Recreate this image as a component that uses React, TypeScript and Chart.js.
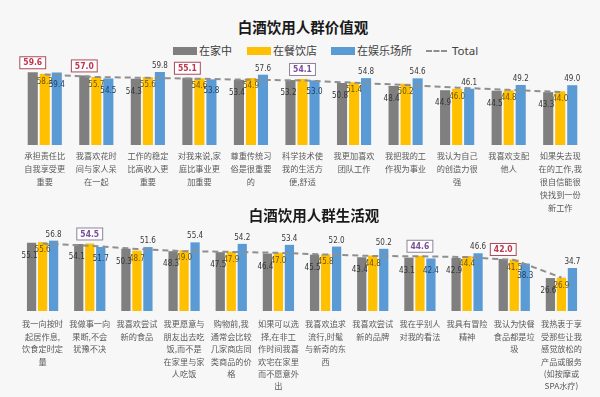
import React, { useEffect, useRef } from 'react';
import { Chart, registerables } from 'chart.js';

Chart.register(...registerables);

// ---------- data: 价值观 ----------
const topCategories: string[][] = [
  ['承担责任比', '自我享受更', '重要'],
  ['我喜欢花时', '间与家人呆', '在一起'],
  ['工作的稳定', '比高收入更', '重要'],
  ['对我来说,家', '庭比事业更', '加重要'],
  ['尊重传统习', '俗是很重要', '的'],
  ['科学技术使', '我的生活方', '便,舒适'],
  ['我更加喜欢', '团队工作'],
  ['我把我的工', '作视为事业'],
  ['我认为自己', '的创造力很', '强'],
  ['我喜欢支配', '他人'],
  ['如果失去现', '在的工作,我', '很自信能很', '快找到一份', '新工作'],
];
const topHome = [59.6, 57.0, 54.3, 55.1, 53.4, 53.2, 50.8, 48.4, 44.9, 44.5, 43.3];
const topRestaurant = [58.3, 55.7, 55.6, 54.6, 54.9, 54.1, 51.4, 50.2, 46.0, 44.8, 44.0];
const topEntertainment = [59.4, 54.5, 59.8, 53.8, 57.6, 53.0, 54.8, 54.6, 46.1, 49.2, 49.0];
const topTotal = [57.8, 55.7, 55.0, 54.3, 53.4, 52.9, 51.0, 49.2, 47.0, 45.2, 43.4];
// [category index, series index, tone]
const topHighlights: [number, number, string][] = [
  [0, 0, 'red'], [1, 0, 'red'], [3, 0, 'red'], [5, 1, 'purple'],
];

// ---------- data: 生活观 ----------
const bottomCategories: string[][] = [
  ['我一向按时', '起居作息,', '饮食定时定', '量'],
  ['我做事一向', '果断,不会', '犹豫不决'],
  ['我喜欢尝试', '新的食品'],
  ['我更愿意与', '朋友出去吃', '饭,而不是', '在家里与家', '人吃饭'],
  ['购物前,我', '通常会比较', '几家商店同', '类商品的价', '格'],
  ['如果可以选', '择,在非工', '作时间我喜', '欢宅在家里', '而不愿意外', '出'],
  ['我喜欢追求', '流行,时髦', '与新奇的东', '西'],
  ['我喜欢尝试', '新的品牌'],
  ['我在乎别人', '对我的看法'],
  ['我具有冒险', '精神'],
  ['我认为快餐', '食品都是垃', '圾'],
  ['我热衷于享', '受那些让我', '感觉放松的', '产品或服务', '(如按摩或', 'SPA水疗)'],
];
const bottomHome = [55.1, 54.1, 50.3, 48.3, 47.5, 46.4, 45.5, 43.4, 43.1, 42.9, 42.0, 26.6];
const bottomRestaurant = [55.6, 54.5, 48.7, 49.0, 47.9, 47.0, 45.8, 44.8, 44.6, 44.4, 41.5, 26.9];
const bottomEntertainment = [56.8, 51.7, 51.6, 55.4, 54.2, 53.4, 52.0, 50.2, 42.4, 46.6, 38.3, 34.7];
const bottomTotal = [54.4, 52.7, 50.1, 48.3, 47.7, 47.0, 45.6, 44.4, 44.2, 43.5, 41.2, 27.0];
const bottomHighlights: [number, number, string][] = [
  [1, 1, 'purple'], [8, 1, 'purple'], [10, 0, 'red'],
];

const seriesNames = ['在家中', '在餐饮店', '在娱乐场所', 'Total'];
const GRAY = '#7f7f7f';
const YELLOW = '#ffc000';
const BLUE = '#5b9bd5';
const TOTAL = '#8f8f8f';
const CJK = "'Noto Sans CJK SC', 'Noto Sans', sans-serif";
const NUMFONT = "'Liberation Sans Narrow', 'DejaVu Sans Condensed', 'Liberation Sans', Arial, sans-serif";

function labelPlugin(highlights: [number, number, string][]) {
  return {
    id: 'barValueLabels',
    afterDatasetsDraw(chart: any) {
      const ctx = chart.ctx;
      const n = chart.data.labels.length;
      const metas = [0, 1, 2].map((i) => chart.getDatasetMeta(i));
      for (let j = 0; j < n; j++) {
        const vals = [0, 1, 2].map((i) => chart.data.datasets[i].data[j] as number);
        for (let i = 0; i < 3; i++) {
          const el = metas[i].data[j];
          const v = vals[i];
          const txt = v.toFixed(1);
          const hl = highlights.find((h) => h[0] === j && h[1] === i);
          ctx.save();
          ctx.textAlign = 'center';
          ctx.textBaseline = 'middle';
          if (hl) {
            const red = hl[2] === 'red';
            ctx.font = `bold 8.5px ${NUMFONT}`;
            const w = ctx.measureText(txt).width + 8;
            const h = 13;
            const bx = el.x - w / 2;
            const by = el.y - 3 - h;
            ctx.fillStyle = 'rgba(255,255,255,0.95)';
            ctx.fillRect(bx, by, w, h);
            ctx.strokeStyle = red ? '#a84a5c' : '#8c8299';
            ctx.lineWidth = 1;
            ctx.strokeRect(bx + 0.5, by + 0.5, w - 1, h - 1);
            ctx.fillStyle = red ? '#c0364e' : '#7b4e9c';
            ctx.fillText(txt, el.x, by + h / 2 + 0.5);
          } else {
            ctx.font = `8px ${NUMFONT}`;
            let y = el.y + 12;
            let x = el.x;
            let color = '#3a3a3a';
            if (i === 0) {
              y = el.y + 13;
              x = el.x - 2;
              color = '#333333';
            } else if (i === 1) {
              y = el.y + 8;
              color = '#6e5200';
            } else {
              if (v >= Math.max(vals[0], vals[1])) {
                y = el.y - 6;
                color = '#3a3a3a';
              } else {
                y = el.y + 12;
                color = '#1d3f66';
              }
            }
            ctx.fillStyle = color;
            ctx.fillText(txt, x, y);
          }
          ctx.restore();
        }
      }
    },
  };
}

function buildConfig(
  labels: string[][],
  home: number[],
  rest: number[],
  ent: number[],
  total: number[],
  highlights: [number, number, string][],
  opts: { padTop: number; padBottom: number; padLeft: number; padRight: number; yMax: number; fontSize: number; lineHeight: number; tickPad: number },
): any {
  const barCommon = { categoryPercentage: 0.7, barPercentage: 0.84, order: 1, borderWidth: 0 };
  return {
    type: 'bar',
    data: {
      labels,
      datasets: [
        { label: seriesNames[0], data: home, backgroundColor: GRAY, ...barCommon },
        { label: seriesNames[1], data: rest, backgroundColor: YELLOW, ...barCommon },
        { label: seriesNames[2], data: ent, backgroundColor: BLUE, ...barCommon },
        {
          type: 'line',
          label: seriesNames[3],
          data: total,
          borderColor: TOTAL,
          borderWidth: 2,
          borderDash: [6, 4],
          pointRadius: 0,
          fill: false,
          tension: 0,
          order: 0,
        },
      ],
    },
    options: {
      responsive: false,
      maintainAspectRatio: false,
      animation: false,
      devicePixelRatio: 1,
      layout: { padding: { top: opts.padTop, bottom: opts.padBottom, left: opts.padLeft, right: opts.padRight } },
      plugins: {
        legend: { display: false },
        title: { display: false },
        tooltip: { enabled: false },
      },
      scales: {
        x: {
          grid: { display: false, drawTicks: false },
          border: { display: false },
          ticks: {
            autoSkip: false,
            maxRotation: 0,
            minRotation: 0,
            padding: opts.tickPad,
            color: '#5a5a5a',
            font: { family: CJK, size: opts.fontSize, lineHeight: opts.lineHeight },
          },
        },
        y: { display: false, min: 0, max: opts.yMax },
      },
    },
    plugins: [labelPlugin(highlights)],
  };
}

function ChartCanvas({ config, width, height, top }: { config: () => any; width: number; height: number; top: number }) {
  const ref = useRef<HTMLCanvasElement | null>(null);
  useEffect(() => {
    if (!ref.current) return;
    const chart = new Chart(ref.current, config());
    return () => chart.destroy();
  }, []);
  return (
    <canvas
      ref={ref}
      width={width}
      height={height}
      style={{ position: 'absolute', left: 0, top, width, height, display: 'block' }}
    />
  );
}

const titleStyle: React.CSSProperties = {
  position: 'absolute',
  fontFamily: CJK,
  fontWeight: 700,
  fontSize: 14.5,
  lineHeight: '15px',
  color: '#1a1a1a',
  textAlign: 'center',
  whiteSpace: 'nowrap',
};

const legendText: React.CSSProperties = {
  position: 'absolute',
  fontFamily: CJK,
  fontSize: 11,
  lineHeight: '13px',
  color: '#404040',
  top: 44,
  whiteSpace: 'nowrap',
};

function Legend() {
  const rect = (left: number, color: string) => (
    <div style={{ position: 'absolute', left, top: 47, width: 24, height: 8, background: color }} />
  );
  return (
    <>
      {rect(173, GRAY)}
      <div style={{ ...legendText, left: 199 }}>{seriesNames[0]}</div>
      {rect(247, YELLOW)}
      <div style={{ ...legendText, left: 273 }}>{seriesNames[1]}</div>
      {rect(331, BLUE)}
      <div style={{ ...legendText, left: 357 }}>{seriesNames[2]}</div>
      <div style={{ position: 'absolute', left: 426, top: 50, width: 21, height: 0, borderTop: `2px dashed ${TOTAL}` }} />
      <div style={{ ...legendText, left: 452, fontFamily: "'Noto Sans', sans-serif", fontSize: 11.5 }}>{seriesNames[3]}</div>
    </>
  );
}

export default function App() {
  return (
    <div
      style={{
        position: 'fixed',
        left: 0,
        top: 0,
        width: 600,
        height: 397,
        background: '#f7f7f7',
        overflow: 'hidden',
      }}
    >
      <div style={{ ...titleStyle, left: 203, width: 200, top: 19 }}>白酒饮用人群价值观</div>
      <Legend />
      <ChartCanvas
        width={600}
        height={218}
        top={0}
        config={() =>
          buildConfig(topCategories, topHome, topRestaurant, topEntertainment, topTotal, topHighlights, {
            padTop: 62,
            padBottom: 0,
            padLeft: 19,
            padRight: 14,
            yMax: 68,
            fontSize: 8.2,
            lineHeight: 13 / 8.2,
            tickPad: 4,
          })
        }
      />
      <div style={{ ...titleStyle, left: 214, width: 200, top: 207 }}>白酒饮用人群生活观</div>
      <ChartCanvas
        width={600}
        height={172}
        top={225}
        config={() =>
          buildConfig(bottomCategories, bottomHome, bottomRestaurant, bottomEntertainment, bottomTotal, bottomHighlights, {
            padTop: 3,
            padBottom: 3,
            padLeft: 19,
            padRight: 15,
            yMax: 67,
            fontSize: 8.2,
            lineHeight: 12.4 / 8.2,
            tickPad: 7,
          })
        }
      />
    </div>
  );
}
